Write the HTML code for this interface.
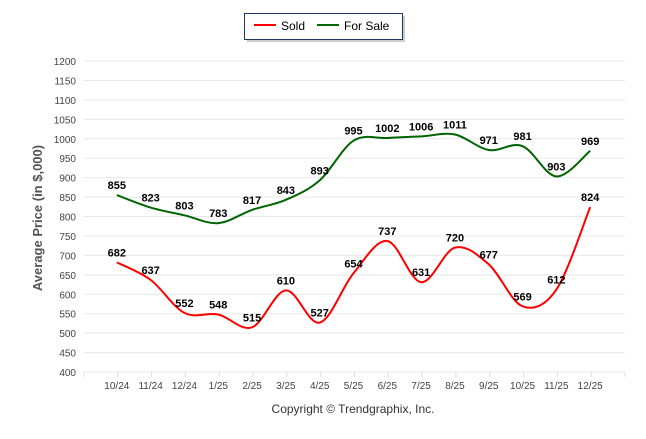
<!DOCTYPE html>
<html><head><meta charset="utf-8"><style>
body{margin:0;background:#fff;font-family:"Liberation Sans",sans-serif;}
</style></head><body>
<svg width="646" height="434" xmlns="http://www.w3.org/2000/svg">
<g id="grid"></g>
<g id="series"></g>
<g id="labels"></g>
<text x="42" y="218" transform="rotate(-90 42 218)" text-anchor="middle" font-size="13" font-weight="bold" fill="#555">Average Price (in $,000)</text>
<text x="353" y="413" text-anchor="middle" font-size="12" fill="#333">Copyright © Trendgraphix, Inc.</text>
<g>
<rect x="247" y="16" width="158" height="26" fill="#999" opacity="0.5"/>
<rect x="244.5" y="13.5" width="158" height="26" fill="#fff" stroke="#1f3864" stroke-width="1"/>
<line x1="254" y1="25" x2="276" y2="25" stroke="#f00" stroke-width="2"/>
<text x="281" y="30" font-size="12" fill="#000">Sold</text>
<line x1="317" y1="25" x2="339" y2="25" stroke="#006400" stroke-width="2"/>
<text x="344" y="30" font-size="12" fill="#000">For Sale</text>
</g>
</svg>
<script>
const categories=["10/24","11/24","12/24","1/25","2/25","3/25","4/25","5/25","6/25","7/25","8/25","9/25","10/25","11/25","12/25"];
const sold=[682,637,552,548,515,610,527,654,737,631,720,677,569,612,824];
const forSale=[855,823,803,783,817,843,893,995,1002,1006,1011,971,981,903,969];
const yTicks=[400,450,500,550,600,650,700,750,800,850,900,950,1000,1050,1100,1150,1200];
const NS="http://www.w3.org/2000/svg";
const L=84,R=625,T=61,B=372;
const x=i=>L+(R-L)/16*(i+1)-1;
const y=v=>B-(v-400)/800*(B-T);
function mk(tag,attrs,parent){const e=document.createElementNS(NS,tag);for(const k in attrs)e.setAttribute(k,attrs[k]);parent.appendChild(e);return e;}
const grid=document.getElementById('grid');
yTicks.forEach(v=>{
 const l=mk('line',{x1:L,x2:R,y1:y(v),y2:y(v),stroke:'#e8e8e8','stroke-width':1},grid);
 
 
 const t=mk('text',{x:76,y:y(v)+4,'text-anchor':'end','font-size':10,fill:'#444'},grid);
 t.textContent=v;
 
 
});
for(let i=0;i<=16;i++){const xx=L+(R-L)/16*i;mk('line',{x1:xx,x2:xx,y1:B,y2:B+5,stroke:'#ddd'},grid);}
categories.forEach((c,i)=>{
 const t=mk('text',{x:x(i),y:B+17,'text-anchor':'middle','font-size':10,fill:'#444'},grid);
 t.textContent=c;
 
 
});
function path(vals){
 const p=vals.map((v,i)=>[x(i),y(v)]);
 let d=`M${p[0][0]},${p[0][1]}`;
 for(let i=0;i<p.length-1;i++){
  const p0=p[i-1]||p[i],p1=p[i],p2=p[i+1],p3=p[i+2]||p2;
  const c1=[p1[0]+(p2[0]-p0[0])/6,p1[1]+(p2[1]-p0[1])/6];
  const c2=[p2[0]-(p3[0]-p1[0])/6,p2[1]-(p3[1]-p1[1])/6];
  d+=`C${c1[0]},${c1[1]} ${c2[0]},${c2[1]} ${p2[0]},${p2[1]}`;
 }
 return d;
}
const s=document.getElementById('series'),lb=document.getElementById('labels');
[[forSale,'#006400','for-sale-line'],[sold,'#f00','sold-line']].forEach(([vals,col,name])=>{
 const p=mk('path',{d:path(vals),fill:'none',stroke:col,'stroke-width':2},s);
 
 
 vals.forEach((v,i)=>{
  const t=mk('text',{x:x(i),y:y(v)-6,'text-anchor':'middle','font-size':11,'font-weight':'bold',fill:'#000'},lb);
  t.textContent=v;
  
  
 });
});
</script>
</body></html>
